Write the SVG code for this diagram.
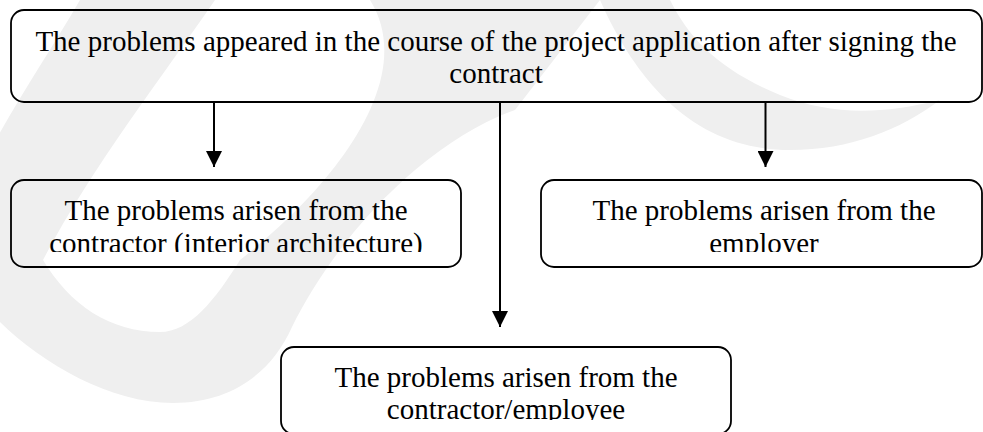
<svg xmlns="http://www.w3.org/2000/svg" width="983" height="432" viewBox="0 0 983 432">
  <defs>
    <style>
      .box { fill: none; stroke: #000; stroke-width: 1.8; }
      .lbl { font-family: "Liberation Serif", "Times New Roman", serif; font-size: 29px; fill: #000; text-anchor: middle; }
      .wm { fill: #efefef; stroke: none; }
      .link { stroke: #000; stroke-width: 2; fill: none; }
    </style>
    <marker id="arrow" viewBox="0 0 16 16" refX="16" refY="8" markerWidth="16" markerHeight="16" markerUnits="userSpaceOnUse" orient="auto">
      <path d="M0,0 L16,8 L0,16 Z" fill="#000"/>
    </marker>
    <clipPath id="clipLeft"><rect x="0" y="178" width="470" height="74"/></clipPath>
    <clipPath id="clipRight"><rect x="535" y="178" width="448" height="74"/></clipPath>
    <clipPath id="clipBottom"><rect x="270" y="345" width="470" height="75"/></clipPath>
  </defs>

  <rect width="983" height="432" fill="#fff"/>

  <!-- faint background swirl -->
  <g id="swirl">
    <path class="wm" d="M80,0 C45,60 10,110 -20,170 L-20,300 C20,350 100,403 173,403 C232,403 272,372 292,327 C340,230 430,140 515,110 L600,0 L370,0 C420,80 330,190 240,260 C215,300 190,332 160,332 C110,332 70,305 43,260 C90,170 160,80 215,0 Z"/>
    <path class="wm" d="M600,0 C640,90 700,150 790,150 C850,150 900,130 940,100 C880,115 830,115 780,95 C720,70 690,40 670,0 Z"/>
  </g>

  <!-- connectors -->
  <g id="connectors">
    <line class="link" x1="214" y1="102" x2="214" y2="167" marker-end="url(#arrow)"/>
    <line class="link" x1="500" y1="102" x2="500" y2="327" marker-end="url(#arrow)"/>
    <line class="link" x1="765.5" y1="102" x2="765.5" y2="167" marker-end="url(#arrow)"/>
  </g>

  <g id="node-top">
    <rect class="box" x="11" y="10" width="971" height="92" rx="13"/>
    <text class="lbl" x="496" y="51">The problems appeared in the course of the project application after signing the</text>
    <text class="lbl" x="496" y="83">contract</text>
  </g>

  <g id="node-contractor-interior">
    <rect class="box" x="11" y="180" width="450" height="87" rx="13"/>
    <g clip-path="url(#clipLeft)">
      <text class="lbl" x="236" y="220">The problems arisen from the</text>
      <text class="lbl" x="236" y="253">contractor (interior architecture)</text>
    </g>
  </g>

  <g id="node-employer">
    <rect class="box" x="541" y="180" width="441" height="87" rx="13"/>
    <g clip-path="url(#clipRight)">
      <text class="lbl" x="764" y="220">The problems arisen from the</text>
      <text class="lbl" x="764" y="253">employer</text>
    </g>
  </g>

  <g id="node-contractor-employee">
    <rect class="box" x="281" y="347" width="450" height="87" rx="13"/>
    <g clip-path="url(#clipBottom)">
      <text class="lbl" x="506" y="387">The problems arisen from the</text>
      <text class="lbl" x="506" y="419">contractor/employee</text>
    </g>
  </g>
</svg>
